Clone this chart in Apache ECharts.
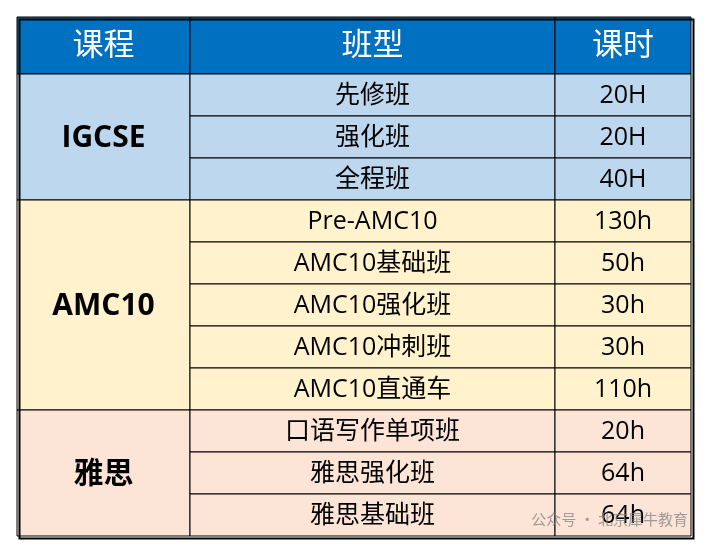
<!DOCTYPE html>
<html><head><meta charset="utf-8">
<script src="https://cdn.jsdelivr.net/npm/echarts@6/dist/echarts.min.js"></script>
<style>html,body{margin:0;padding:0;background:#fff}#c{width:708px;height:552px}</style>
</head><body><div id="c"></div>
<script>
// 表格数据
var headers = ['课程', '班型', '课时'];
var courses = ['IGCSE', 'AMC10', '雅思'];
var courseRows = [3, 5, 3];
var classes = ['先修班', '强化班', '全程班', 'Pre-AMC10', 'AMC10基础班', 'AMC10强化班', 'AMC10冲刺班', 'AMC10直通车', '口语写作单项班', '雅思强化班', '雅思基础班'];
var hours = ['20H', '20H', '40H', '130h', '50h', '30h', '30h', '110h', '20h', '64h', '64h'];

var colW = [173, 365, 136];
var headH = 57, rowH = 42;
var fills = ['#BDD7EE', '#FFF2CC', '#FCE4D6'];
var colX = [0]; colW.forEach(function (w, i) { colX.push(colX[i] + w); });
var totalW = colX[3], totalH = headH + rowH * classes.length;

// cells: [x0, y0, x1, y1, text, fill, font]
var cells = [];
headers.forEach(function (h, i) {
  cells.push([colX[i], 0, colX[i + 1], headH, h, '#0070C0', 'h']);
});
var r = 0;
courses.forEach(function (c, g) {
  var y0 = headH + r * rowH;
  cells.push([colX[0], y0, colX[1], y0 + courseRows[g] * rowH, c, fills[g], 'g']);
  for (var k = 0; k < courseRows[g]; k++) {
    var y = headH + (r + k) * rowH;
    cells.push([colX[1], y, colX[2], y + rowH, classes[r + k], fills[g], 'b']);
    cells.push([colX[2], y, colX[3], y + rowH, hours[r + k], fills[g], 'b']);
  }
  r += courseRows[g];
});

var fam = '"Open Sans", "Noto Sans CJK SC", sans-serif';
var chart = echarts.init(document.getElementById('c'));
chart.setOption({
  animation: false,
  grid: { left: 17, top: 17, width: totalW, height: totalH },
  xAxis: { type: 'value', min: 0, max: totalW, show: false },
  yAxis: { type: 'value', min: 0, max: totalH, inverse: true, show: false },
  series: [{
    type: 'custom',
    data: cells,
    renderItem: function (params, api) {
      var p0 = api.coord([api.value(0), api.value(1)]);
      var p1 = api.coord([api.value(2), api.value(3)]);
      var d = cells[params.dataIndex];
      var f = d[6];
      var font = f === 'h' ? { size: 31, w: 'normal', c: '#fff' } :
        f === 'g' ? { size: 30, w: 'bold', c: '#000' } : { size: 25, w: 'normal', c: '#000' };
      return {
        type: 'group',
        children: [{
          type: 'rect',
          shape: { x: p0[0], y: p0[1], width: p1[0] - p0[0], height: p1[1] - p0[1] },
          style: { fill: d[5], stroke: '#000', lineWidth: 1 }
        }, {
          type: 'text',
          style: {
            x: (p0[0] + p1[0]) / 2, y: (p0[1] + p1[1]) / 2 + 1, text: d[4],
            align: 'center', verticalAlign: 'middle', fill: font.c,
            font: font.w + ' ' + font.size + 'px ' + fam
          }
        }]
      };
    }
  }],
  graphic: [{
    type: 'rect', left: 17, top: 17, shape: { width: totalW, height: totalH },
    style: { fill: 'none', stroke: '#000', lineWidth: 2 }, z: 10
  }, {
    type: 'text', right: 20, top: 512,
    style: { text: '公众号 · 北京犀牛教育', fill: 'rgba(130,130,130,0.75)', font: '15px "Noto Sans CJK SC", sans-serif' }, z: 11
  }]
});
</script></body></html>
